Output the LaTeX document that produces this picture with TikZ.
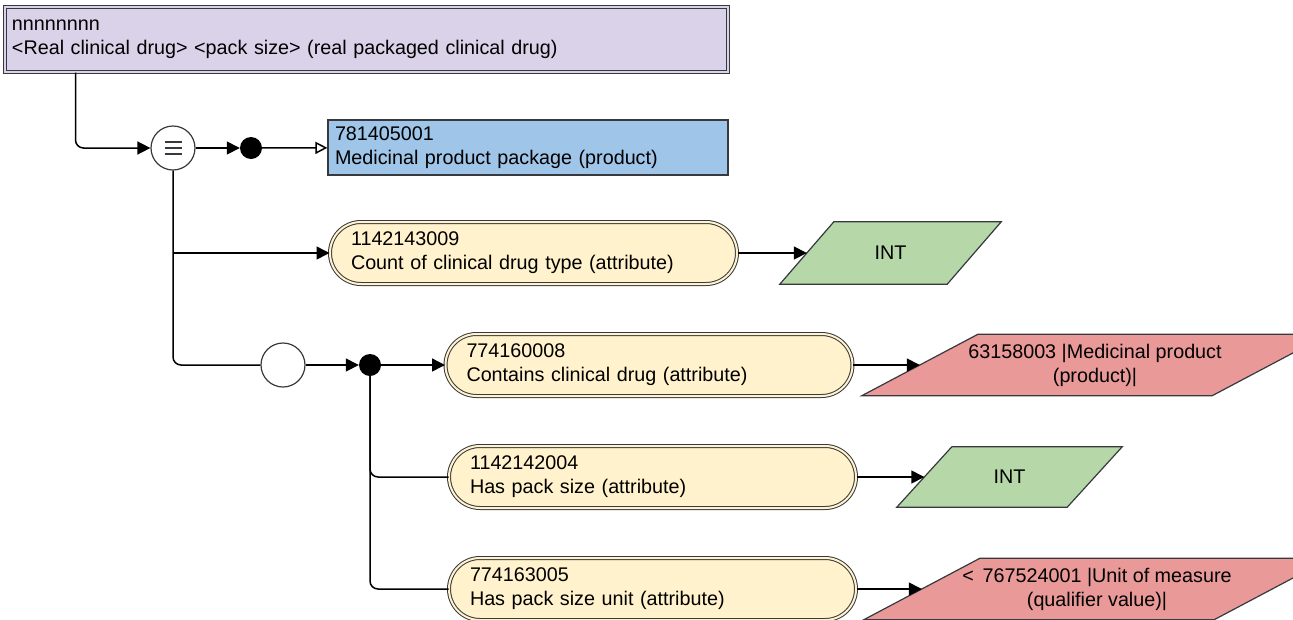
\documentclass[tikz,border=0pt]{standalone}
\usepackage{fontspec}
\setmainfont{Liberation Sans}
\usetikzlibrary{arrows.meta,backgrounds}
\definecolor{defFill}{HTML}{D9D2E9}
\definecolor{prodFill}{HTML}{9FC5E8}
\definecolor{attrFill}{HTML}{FFF2CC}
\definecolor{intFill}{HTML}{B6D7A8}
\definecolor{refFill}{HTML}{EA9999}
\definecolor{edge}{HTML}{36393D}
\begin{document}
\begin{tikzpicture}[x=1pt, y=-1pt,
        every node/.style={font=\fontsize{19.75}{24}\selectfont, text=black},
        defbox/.style={rectangle, draw=edge, line width=1pt, double=defFill, double distance=2pt, fill=defFill,
            minimum width=723, minimum height=65, text width=709, inner xsep=7, align=left},
        prodbox/.style={rectangle, draw=edge, line width=1.2pt, fill=prodFill,
            minimum width=400, minimum height=55, text width=386, inner xsep=7, align=left},
        attr/.style={rectangle, rounded corners=31, draw=edge, line width=1pt, double=attrFill, double distance=2pt,
            fill=attrFill, minimum width=407, minimum height=62, text width=365, inner xsep=21, align=left},
        valbox/.style={rectangle, inner sep=0, align=center},
        ring/.style={circle, draw=edge, line width=1.2pt, fill=white, minimum size=44, inner sep=0},
        equivring/.style={ring, path picture={
            \foreach \dy in {-6,0,6}
                \draw[line width=2.4pt, edge] ([xshift=-8.5pt, yshift=\dy pt]path picture bounding box.center) -- ++(17,0);}},
        dot/.style={circle, fill=black, minimum size=22, inner sep=0},
        plain/.style={draw, line width=1.5pt, rounded corners=8},
        arr/.style={plain, -{Triangle[length=13pt, width=13pt]}},
        openarr/.style={plain, -{Triangle[open, fill=white, length=12pt, width=12pt]}}
    ]
        \useasboundingbox (0,0) rectangle (1293,619);
        \clip (0,0) rectangle (1293,619);

        % Definition
        \node[defbox] (rpcd) at (366.5,39.5) {nnnnnnnn\\<Real clinical drug> <pack size> (real packaged clinical drug)};

        % Is-a
        \node[equivring] (equiv) at (173,148) {};
        \node[dot] (dot1) at (251,148) {};
        \node[prodbox] (mpp) at (528,147.5) {781405001\\Medicinal product package (product)};

        % Ungrouped attribute
        \node[attr] (cnt) at (533.5,253) {1142143009\\Count of clinical drug type (attribute)};
        \node[valbox, minimum width=167, minimum height=62] (int1) at (890.5,253) {INT};

        % Group
        \node[ring] (grp) at (283,365) {};
        \node[dot] (dot2) at (370,365) {};
        \node[attr] (ccd) at (649,365) {774160008\\Contains clinical drug (attribute)};
        \node[valbox, minimum width=350, minimum height=61] (mp) at (1095,365) {63158003 |Medicinal product\\(product)|};
        \node[attr] (hps) at (652.5,477) {1142142004\\Has pack size (attribute)};
        \node[valbox, minimum width=170, minimum height=60] (int2) at (1009.5,477) {INT};
        \node[attr] (hpsu) at (652.5,589) {774163005\\Has pack size unit (attribute)};
        \node[valbox, minimum width=350, minimum height=61] (unit) at (1097,589) {<~\,767524001 |Unit of measure\\(qualifier value)|};

        % Value shapes
        \begin{scope}[on background layer]
            \foreach \v/\off/\col in {int1/54/intFill, int2/55/intFill, mp/116/refFill, unit/116/refFill}
                \draw[edge, line width=1.2pt, fill=\col]
                    ([xshift=-\off/2]\v.south west) -- ([xshift=-\off/2]\v.south east)
                    -- ([xshift=\off/2]\v.north east) -- ([xshift=\off/2]\v.north west) -- cycle;
        \end{scope}

        % Connections
        \draw[arr] ([xshift=71pt]rpcd.south west) |- (equiv);
        \draw[arr] (equiv) -- (dot1);
        \draw[openarr] (dot1) -- (mpp);
        \draw[plain] (equiv) |- (grp);
        \draw[arr] (equiv |- cnt) -- (cnt);
        \draw[arr] (cnt) -- (int1);
        \draw[arr] (grp) -- (dot2);
        \draw[arr] (dot2) -- (ccd);
        \draw[arr] (ccd) -- (mp);
        \draw[plain] (dot2) |- (hps);
        \draw[plain] (dot2) |- (hpsu);
        \draw[arr] (hps) -- (int2);
        \draw[arr] (hpsu) -- (unit);
    \end{tikzpicture}
\end{document}
